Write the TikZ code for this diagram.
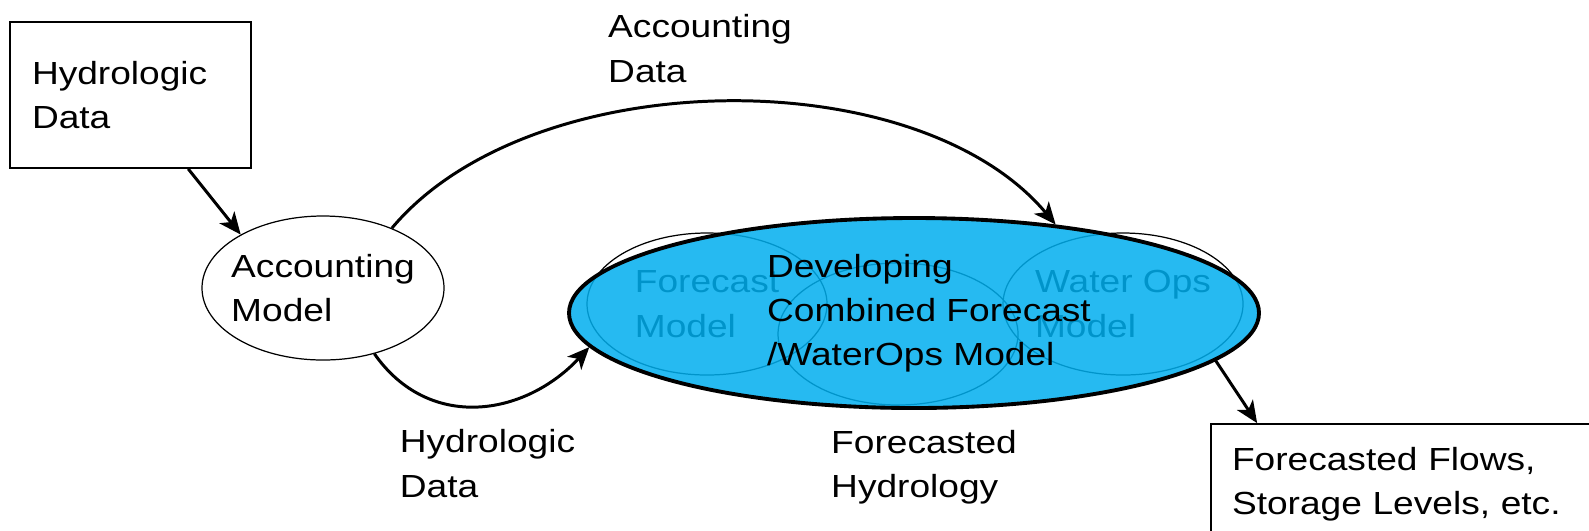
\documentclass[tikz,border=0pt]{standalone}
\usepackage{fontspec}
\setmainfont{Liberation Sans}[FakeStretch=1.16]
\usetikzlibrary{arrows.meta,positioning,shapes.geometric}
\definecolor{ComboBlue}{RGB}{0,174,238}
\tikzset{
  databox/.style={draw,line width=0.5pt,minimum width=2.41cm,minimum height=1.46cm,
    inner xsep=0.22cm,text width=1.97cm,align=left},
  model/.style={ellipse,draw,line width=0.35pt,minimum width=2.42cm,
    minimum height=1.44cm,inner xsep=-0.15cm,inner ysep=0pt,align=left},
  ghost/.style={ellipse,draw,line width=0.35pt,minimum width=2.40cm,
    minimum height=1.42cm,inner xsep=-0.15cm,inner ysep=0pt,align=left},
  combined/.style={ellipse,draw,line width=1.1pt,fill=ComboBlue,fill opacity=0.85,
    minimum width=6.90cm,minimum height=1.90cm},
  lbl/.style={align=left,inner sep=0pt},
  arrow/.style={-{Stealth[length=2.2mm,width=1.9mm,inset=0.6mm]},line width=0.85pt}
}

\begin{document}
\begin{tikzpicture}[font=\fontsize{9.1}{12.6}\selectfont]
      \useasboundingbox (0,0) rectangle (15.89,5.30);
      \node[databox] (hyd) at (1.305,4.35) {Hydrologic\\Data};
      \node[model] (acc) at (3.23,2.42) {Accounting\\Model};
      % models that are being merged
      \node[ghost] (fcst) at (7.07,2.26) {Forecast\\Model};
      \node[ghost] (wops) at (11.23,2.26) {Water Ops\\Model};
      \node[ghost] (mid) at (8.98,1.96) {};
      \node[combined] (comb) at (9.14,2.17) {};
      \node[lbl] (combtxt) at (9.29,2.17) {Developing\\Combined Forecast\\/WaterOps Model};
      \node[databox,minimum width=3.89cm,minimum height=1.21cm,inner xsep=0.21cm,
        text width=3.47cm] (flows) at (14.055,0.455) {Forecasted Flows,\\Storage Levels, etc.};
      % labels
      \node[lbl] (accdata) at (7.00,4.815) {Accounting\\Data};
      \node[lbl] (hyddata) at (4.875,0.665) {Hydrologic\\Data};
      \node[lbl] (fchyd) at (9.24,0.63) {Forecasted\\Hydrology};
      \draw[arrow] (hyd.-52) -- (acc.147);
      \draw[arrow] (acc.41) .. controls +(50:2.16) and +(130:2.16) .. (comb.32);
      \draw[arrow] (acc.-52) .. controls +(-55:0.95) and +(227:0.95) .. (comb.186);
      \draw[arrow] (comb.-9.2) -- ([xshift=0.47cm]flows.north west);
    \end{tikzpicture}
\end{document}
